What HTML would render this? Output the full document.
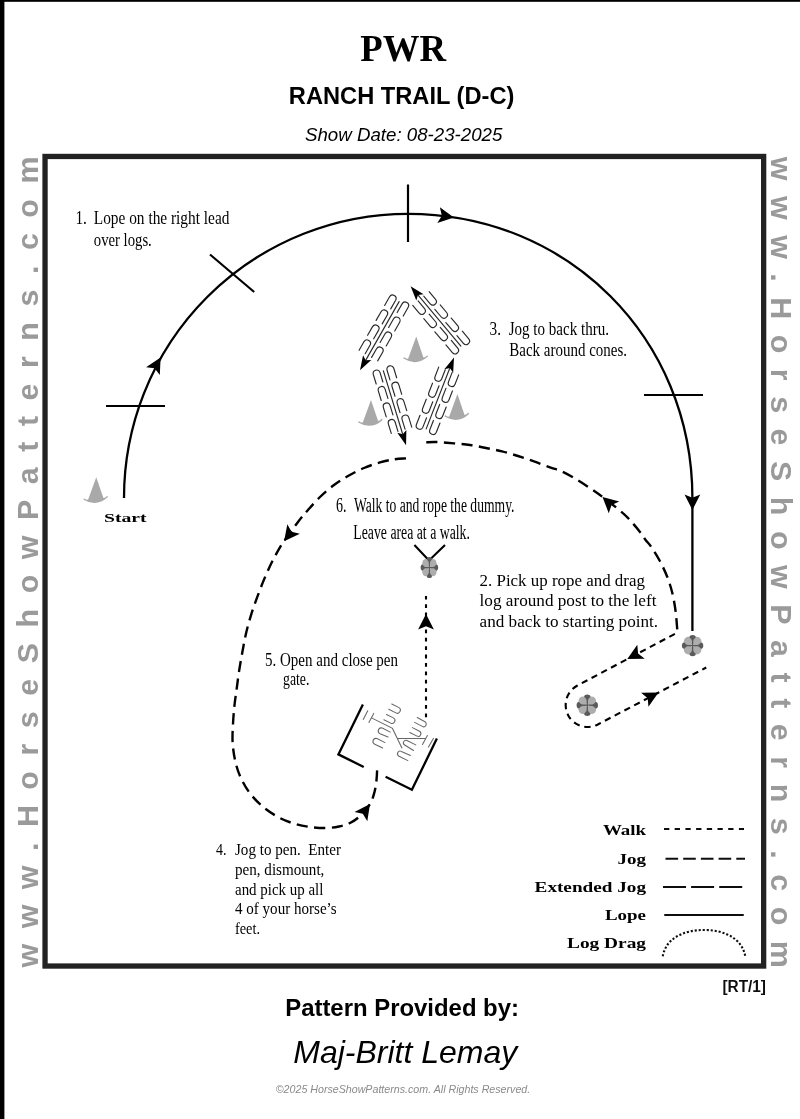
<!DOCTYPE html>
<html lang="en">
<head>
<meta charset="utf-8">
<title>PWR Ranch Trail (D-C) Pattern</title>
<style>
html,body{margin:0;padding:0;background:#fff;}
body{width:800px;height:1119px;overflow:hidden;}
svg{display:block;}
text{white-space:pre;}
</style>
</head>
<body>
<svg width="800" height="1119" viewBox="0 0 800 1119">
<rect width="800" height="1119" fill="#fff"/>
<rect x="0" y="0" width="4.4" height="1119" fill="#000"/>
<rect x="0" y="0" width="800" height="1.8" fill="#000"/>
<defs><filter id="soft" x="0" y="0" width="800" height="1119" filterUnits="userSpaceOnUse"><feGaussianBlur stdDeviation="0.45"/></filter></defs>
<g filter="url(#soft)">
<rect x="45.05" y="156.45" width="718.6" height="809.6" fill="none" stroke="#222" stroke-width="5.3"/>
<text x="403.2" y="60.9" font-family="'Liberation Serif', serif" font-size="38.3" font-weight="bold" text-anchor="middle" textLength="85.8" lengthAdjust="spacingAndGlyphs" fill="#000">PWR</text>
<text x="401.6" y="103.8" font-family="'Liberation Sans', sans-serif" font-size="24" font-weight="bold" text-anchor="middle" textLength="225.6" lengthAdjust="spacingAndGlyphs" fill="#000">RANCH TRAIL (D-C)</text>
<text x="403.7" y="140.9" font-family="'Liberation Sans', sans-serif" font-size="19" font-style="italic" text-anchor="middle" textLength="197.4" lengthAdjust="spacingAndGlyphs" fill="#000">Show Date: 08-23-2025</text>
<text transform="translate(38,967.5) rotate(-90)" font-family="'Liberation Sans', sans-serif" font-weight="bold" font-size="30.4" fill="#9a9a9a" textLength="811" lengthAdjust="spacing">www.HorseShowPatterns.com</text>
<text transform="translate(771,156.8) rotate(90)" font-family="'Liberation Sans', sans-serif" font-weight="bold" font-size="30.4" fill="#9a9a9a" textLength="811" lengthAdjust="spacing">www.HorseShowPatterns.com</text>
<text x="766" y="992.1" font-family="'Liberation Sans', sans-serif" font-size="16" font-weight="bold" text-anchor="end" textLength="43.6" lengthAdjust="spacingAndGlyphs" fill="#111">[RT/1]</text>
<text x="402.1" y="1015.8" font-family="'Liberation Sans', sans-serif" font-size="24" font-weight="bold" text-anchor="middle" textLength="233.8" lengthAdjust="spacingAndGlyphs" fill="#000">Pattern Provided by:</text>
<text x="405.3" y="1062.7" font-family="'Liberation Sans', sans-serif" font-size="32" font-style="italic" text-anchor="middle" textLength="224" lengthAdjust="spacingAndGlyphs" fill="#000">Maj-Britt Lemay</text>
<text x="403" y="1093.4" font-family="'Liberation Sans', sans-serif" font-size="11" font-style="italic" text-anchor="middle" textLength="254.5" lengthAdjust="spacingAndGlyphs" fill="#8a8a8a">©2025 HorseShowPatterns.com. All Rights Reserved.</text>
<path d="M124,498 A284.2,284.2 0 0 1 408.2,213.8 C567.92,213.8 692.4,338.28 692.4,498 L692.4,631" fill="none" stroke="#000" stroke-width="2.3"/>
<path d="M106,406 L165,406 M210,254.5 L254.2,292 M408,184.4 L408,242 M644,395 L703,395" fill="none" stroke="#000" stroke-width="2.2"/>
<polygon points="160.6,357.6 159.83,374.98 154.58,368.21 146.08,367.19" fill="#000"/>
<polygon points="453.9,217.6 437.33,222.9 441.86,215.64 439.87,207.31" fill="#000"/>
<polygon points="692.4,510 684.5,494.5 692.4,497.8 700.3,494.5" fill="#000"/>
<path d="M96.25,477.2 L103.41,498.1 Q105.32,498.1 107.18,495.69 L107.93,497.12 Q96.65,507.45 83.47,499.69 L83.91,498.13 Q86.22,500.1 88.09,499.7 Z" fill="#a9a9a9"/>
<text x="104" y="522.2" font-family="'Liberation Serif', serif" font-size="12.6" font-weight="bold" textLength="42.6" lengthAdjust="spacingAndGlyphs" fill="#000">Start</text>
<path d="M416.25,336.4 L423.42,357.47 Q425.33,357.51 427.25,355.15 L427.97,356.59 Q416.45,366.67 403.45,358.61 L403.93,357.07 Q406.2,359.09 408.08,358.73 Z" fill="#a9a9a9"/>
<path d="M370.95,400 L378.11,420.9 Q380.02,420.9 381.88,418.49 L382.63,419.92 Q371.35,430.25 358.17,422.49 L358.61,420.93 Q360.92,422.9 362.79,422.5 Z" fill="#a9a9a9"/>
<path d="M457.4,394.1 L464.56,415 Q466.47,415 468.33,412.59 L469.08,414.02 Q457.8,424.35 444.62,416.59 L445.06,415.03 Q447.37,417 449.24,416.6 Z" fill="#a9a9a9"/>
<path d="M403.22,316.03 L408.17,307.34 A3.5,3.5 0 0 0 402.08,303.87 L397.14,312.56 M394.71,330.97 L399.66,322.28 A3.5,3.5 0 0 0 393.57,318.82 L388.62,327.51 M386.2,345.92 L391.14,337.23 A3.5,3.5 0 0 0 385.06,333.77 L380.11,342.46 M377.69,360.87 L382.63,352.18 A3.5,3.5 0 0 0 376.55,348.71 L371.6,357.4 M390.7,308.9 L395.65,300.21 A3.5,3.5 0 0 0 389.57,296.75 L384.62,305.44 M382.19,323.85 L387.14,315.16 A3.5,3.5 0 0 0 381.06,311.69 L376.11,320.38 M373.68,338.79 L378.63,330.1 A3.5,3.5 0 0 0 372.55,326.64 L367.6,335.33 M365.17,353.74 L370.12,345.05 A3.5,3.5 0 0 0 364.04,341.59 L359.09,350.28 M399.12,301.61 L365.94,359.87" fill="none" stroke="#2a2a2a" stroke-width="1.15" stroke-linecap="round"/>
<polygon points="360,370.3 363.05,355.35 365.69,360.31 371.3,360.05" fill="#000"/>
<path d="M396.67,377.79 L393.76,368.22 A3.5,3.5 0 0 0 387.06,370.27 L389.98,379.83 M401.7,394.24 L398.78,384.68 A3.5,3.5 0 0 0 392.08,386.72 L395,396.28 M406.72,410.69 L403.8,401.13 A3.5,3.5 0 0 0 397.1,403.17 L400.02,412.73 M411.74,427.14 L408.82,417.58 A3.5,3.5 0 0 0 402.12,419.62 L405.04,429.18 M382.9,381.99 L379.98,372.43 A3.5,3.5 0 0 0 373.29,374.47 L376.21,384.04 M387.92,398.44 L385,388.88 A3.5,3.5 0 0 0 378.31,390.92 L381.23,400.49 M392.94,414.89 L390.02,405.33 A3.5,3.5 0 0 0 383.33,407.37 L386.25,416.94 M397.96,431.34 L395.04,421.78 A3.5,3.5 0 0 0 388.35,423.82 L391.27,433.39 M383.38,370.87 L402.56,433.72" fill="none" stroke="#2a2a2a" stroke-width="1.15" stroke-linecap="round"/>
<polygon points="406.06,445.2 397.28,432.72 402.7,434.2 406.37,429.94" fill="#000"/>
<path d="M420.02,415.24 L416.4,424.56 A3.5,3.5 0 0 0 422.92,427.1 L426.55,417.78 M426.26,399.21 L422.63,408.53 A3.5,3.5 0 0 0 429.16,411.07 L432.78,401.75 M432.49,383.18 L428.87,392.5 A3.5,3.5 0 0 0 435.39,395.04 L439.02,385.72 M438.73,367.15 L435.1,376.47 A3.5,3.5 0 0 0 441.63,379.01 L445.25,369.69 M433.44,420.46 L429.82,429.78 A3.5,3.5 0 0 0 436.34,432.32 L439.97,423 M439.68,404.43 L436.05,413.75 A3.5,3.5 0 0 0 442.58,416.29 L446.2,406.97 M445.91,388.4 L442.29,397.72 A3.5,3.5 0 0 0 448.81,400.26 L452.44,390.94 M452.15,372.37 L448.52,381.69 A3.5,3.5 0 0 0 455.05,384.23 L458.67,374.91 M426.19,428.9 L449.65,368.58" fill="none" stroke="#2a2a2a" stroke-width="1.15" stroke-linecap="round"/>
<polygon points="454,357.4 453.17,372.64 449.83,368.12 444.32,369.19" fill="#000"/>
<path d="M445.92,344.94 L452.36,352.6 A3.5,3.5 0 0 0 457.72,348.1 L451.28,340.44 M434.86,331.77 L441.29,339.43 A3.5,3.5 0 0 0 446.65,334.93 L440.22,327.27 M423.8,318.6 L430.23,326.26 A3.5,3.5 0 0 0 435.59,321.76 L429.16,314.1 M412.74,305.43 L419.17,313.09 A3.5,3.5 0 0 0 424.53,308.59 L418.1,300.93 M456.95,335.68 L463.38,343.34 A3.5,3.5 0 0 0 468.74,338.84 L462.31,331.18 M445.89,322.51 L452.32,330.17 A3.5,3.5 0 0 0 457.68,325.67 L451.25,318.01 M434.83,309.34 L441.26,317 A3.5,3.5 0 0 0 446.62,312.5 L440.19,304.84 M423.76,296.17 L430.2,303.83 A3.5,3.5 0 0 0 435.56,299.33 L429.12,291.67 M460.87,346.1 L418.32,295.44" fill="none" stroke="#2a2a2a" stroke-width="1.15" stroke-linecap="round"/>
<polygon points="410.6,286.25 423.56,294.3 418,295.06 416.29,300.41" fill="#000"/>
<path d="M677.25,629.4 C676.98,626.38 676.39,617.19 675.6,611.25 C674.81,605.31 673.85,599.38 672.5,593.75 C671.15,588.12 669.58,582.92 667.5,577.5 C665.42,572.08 662.71,566.35 660,561.25 C657.29,556.15 653.65,550.44 651.25,546.9 C648.85,543.36 647.48,542.5 645.6,540 C643.73,537.5 642.81,535.44 640,531.9 C637.19,528.36 632.08,522.3 628.75,518.75 C625.42,515.2 624.38,514.24 620,510.6 C615.62,506.96 607.18,500.43 602.5,496.9 C597.82,493.37 596.07,492.22 591.9,489.4 C587.73,486.58 582.5,482.98 577.5,480 C572.5,477.02 566.48,473.6 561.9,471.5 C557.32,469.4 554.65,469.08 550,467.4 C545.35,465.72 539.33,463.3 534,461.4 C528.67,459.5 523.33,457.67 518,456 C512.67,454.33 507.33,452.73 502,451.4 C496.67,450.07 491.33,449.07 486,448 C480.67,446.93 475.33,445.77 470,445 C464.67,444.23 459.67,443.9 454,443.4 C448.33,442.9 440.67,442.17 436,442 C431.33,441.83 427.67,442.33 426,442.4" fill="none" stroke="#000" stroke-width="2.4" stroke-dasharray="11.2 6.4"/>
<polygon points="602.5,496.9 619.3,501.4 611.57,505.06 608.73,513.14" fill="#000"/>
<path d="M406,458.4 C404,458.57 398.33,458.73 394,459.4 C389.67,460.07 385,460.97 380,462.4 C375,463.83 369.33,465.73 364,468 C358.67,470.27 353,473.17 348,476 C343,478.83 338.67,481.5 334,485 C329.33,488.5 324.33,492.83 320,497 C315.67,501.17 311.67,505.83 308,510 C304.33,514.17 301.93,516.9 298,522 C294.07,527.1 287.38,536.4 284.4,540.6 C281.42,544.8 282.13,543.72 280.1,547.2 C278.07,550.68 274.82,556.27 272.2,561.5 C269.58,566.73 266.9,572.65 264.4,578.6 C261.9,584.55 259.47,591 257.2,597.2 C254.93,603.4 252.7,609.6 250.8,615.8 C248.9,622 247.23,628.2 245.8,634.4 C244.37,640.6 243.33,646.8 242.2,653 C241.07,659.2 239.95,665.4 239,671.6 C238.05,677.8 237.27,684.47 236.5,690.2 C235.73,695.93 234.98,700.37 234.4,706 C233.82,711.63 233.3,718 233,724 C232.7,730 232.27,736 232.6,742 C232.93,748 233.77,754.33 235,760 C236.23,765.67 237.67,770.67 240,776 C242.33,781.33 245.33,787 249,792 C252.67,797 257.17,801.83 262,806 C266.83,810.17 272.67,814.07 278,817 C283.33,819.93 288.67,821.93 294,823.6 C299.33,825.27 304.67,826.27 310,827 C315.33,827.73 321.17,828.08 326,828 C330.83,827.92 335,827.33 339,826.5 C343,825.67 346.5,824.75 350,823 C353.5,821.25 356.67,819.17 360,816 C363.33,812.83 367.58,808 370,804 C372.42,800 373.42,796 374.5,792 C375.58,788 376.05,783.95 376.5,780 C376.95,776.05 377.08,770.25 377.2,768.3" fill="none" stroke="#000" stroke-width="2.4" stroke-dasharray="11.2 6.4"/>
<polygon points="284.1,541.3 287.32,524.2 291.56,531.64 299.83,533.86" fill="#000"/>
<polygon points="370,804 367.29,821.18 362.83,813.87 354.5,811.9" fill="#000"/>
<path d="M426,717.2 L426,596" fill="none" stroke="#000" stroke-width="2.1" stroke-dasharray="3.8 4.6"/>
<polygon points="426,614 433.9,629.5 426,626.2 418.1,629.5" fill="#000"/>
<path d="M414.4,545 L429,560.5 L445,545" fill="none" stroke="#000" stroke-width="2.1"/>
<g transform="translate(429.4,567.6) scale(0.82,0.98)"><circle cx="-4.2" cy="-4.2" r="4.6" fill="#adadad"/><circle cx="-4.2" cy="4.2" r="4.6" fill="#adadad"/><circle cx="4.2" cy="-4.2" r="4.6" fill="#adadad"/><circle cx="4.2" cy="4.2" r="4.6" fill="#adadad"/><path d="M-0.6,0.6 L-0.7,-5 C-0.9,-7 -3.2,-7.6 -3.2,-8.7 C-3.2,-10 -1.5,-10.7 0,-10.7 C1.5,-10.7 3.2,-10 3.2,-8.7 C3.2,-7.6 0.9,-7 0.7,-5 L0.6,0.6 Z" fill="#5a5a5a" transform="rotate(0)"/><path d="M-0.6,0.6 L-0.7,-5 C-0.9,-7 -3.2,-7.6 -3.2,-8.7 C-3.2,-10 -1.5,-10.7 0,-10.7 C1.5,-10.7 3.2,-10 3.2,-8.7 C3.2,-7.6 0.9,-7 0.7,-5 L0.6,0.6 Z" fill="#5a5a5a" transform="rotate(90)"/><path d="M-0.6,0.6 L-0.7,-5 C-0.9,-7 -3.2,-7.6 -3.2,-8.7 C-3.2,-10 -1.5,-10.7 0,-10.7 C1.5,-10.7 3.2,-10 3.2,-8.7 C3.2,-7.6 0.9,-7 0.7,-5 L0.6,0.6 Z" fill="#5a5a5a" transform="rotate(180)"/><path d="M-0.6,0.6 L-0.7,-5 C-0.9,-7 -3.2,-7.6 -3.2,-8.7 C-3.2,-10 -1.5,-10.7 0,-10.7 C1.5,-10.7 3.2,-10 3.2,-8.7 C3.2,-7.6 0.9,-7 0.7,-5 L0.6,0.6 Z" fill="#5a5a5a" transform="rotate(270)"/></g>
<path d="M674.9,633.9 L577.05,685.7 A22,22 0 0 0 597.4,724.7 L706.25,667.5" fill="none" stroke="#000" stroke-width="2.1" stroke-dasharray="6.3 4.7"/>
<polygon points="627.3,659.1 637.3,644.87 638.08,653.39 644.7,658.83" fill="#000"/>
<polygon points="658.5,692.6 648.45,706.8 647.7,698.27 641.1,692.82" fill="#000"/>
<g transform="translate(692.6,645.6) scale(1,1)"><circle cx="-4.2" cy="-4.2" r="4.6" fill="#adadad"/><circle cx="-4.2" cy="4.2" r="4.6" fill="#adadad"/><circle cx="4.2" cy="-4.2" r="4.6" fill="#adadad"/><circle cx="4.2" cy="4.2" r="4.6" fill="#adadad"/><path d="M-0.6,0.6 L-0.7,-5 C-0.9,-7 -3.2,-7.6 -3.2,-8.7 C-3.2,-10 -1.5,-10.7 0,-10.7 C1.5,-10.7 3.2,-10 3.2,-8.7 C3.2,-7.6 0.9,-7 0.7,-5 L0.6,0.6 Z" fill="#5a5a5a" transform="rotate(0)"/><path d="M-0.6,0.6 L-0.7,-5 C-0.9,-7 -3.2,-7.6 -3.2,-8.7 C-3.2,-10 -1.5,-10.7 0,-10.7 C1.5,-10.7 3.2,-10 3.2,-8.7 C3.2,-7.6 0.9,-7 0.7,-5 L0.6,0.6 Z" fill="#5a5a5a" transform="rotate(90)"/><path d="M-0.6,0.6 L-0.7,-5 C-0.9,-7 -3.2,-7.6 -3.2,-8.7 C-3.2,-10 -1.5,-10.7 0,-10.7 C1.5,-10.7 3.2,-10 3.2,-8.7 C3.2,-7.6 0.9,-7 0.7,-5 L0.6,0.6 Z" fill="#5a5a5a" transform="rotate(180)"/><path d="M-0.6,0.6 L-0.7,-5 C-0.9,-7 -3.2,-7.6 -3.2,-8.7 C-3.2,-10 -1.5,-10.7 0,-10.7 C1.5,-10.7 3.2,-10 3.2,-8.7 C3.2,-7.6 0.9,-7 0.7,-5 L0.6,0.6 Z" fill="#5a5a5a" transform="rotate(270)"/></g>
<g transform="translate(587.3,705.2) scale(1,1)"><circle cx="-4.2" cy="-4.2" r="4.6" fill="#adadad"/><circle cx="-4.2" cy="4.2" r="4.6" fill="#adadad"/><circle cx="4.2" cy="-4.2" r="4.6" fill="#adadad"/><circle cx="4.2" cy="4.2" r="4.6" fill="#adadad"/><path d="M-0.6,0.6 L-0.7,-5 C-0.9,-7 -3.2,-7.6 -3.2,-8.7 C-3.2,-10 -1.5,-10.7 0,-10.7 C1.5,-10.7 3.2,-10 3.2,-8.7 C3.2,-7.6 0.9,-7 0.7,-5 L0.6,0.6 Z" fill="#5a5a5a" transform="rotate(0)"/><path d="M-0.6,0.6 L-0.7,-5 C-0.9,-7 -3.2,-7.6 -3.2,-8.7 C-3.2,-10 -1.5,-10.7 0,-10.7 C1.5,-10.7 3.2,-10 3.2,-8.7 C3.2,-7.6 0.9,-7 0.7,-5 L0.6,0.6 Z" fill="#5a5a5a" transform="rotate(90)"/><path d="M-0.6,0.6 L-0.7,-5 C-0.9,-7 -3.2,-7.6 -3.2,-8.7 C-3.2,-10 -1.5,-10.7 0,-10.7 C1.5,-10.7 3.2,-10 3.2,-8.7 C3.2,-7.6 0.9,-7 0.7,-5 L0.6,0.6 Z" fill="#5a5a5a" transform="rotate(180)"/><path d="M-0.6,0.6 L-0.7,-5 C-0.9,-7 -3.2,-7.6 -3.2,-8.7 C-3.2,-10 -1.5,-10.7 0,-10.7 C1.5,-10.7 3.2,-10 3.2,-8.7 C3.2,-7.6 0.9,-7 0.7,-5 L0.6,0.6 Z" fill="#5a5a5a" transform="rotate(270)"/></g>
<path d="M362.9,704.5 L338.4,754.4 L363.75,767 M385.6,776.8 L411.9,789.7 L436.9,738.6" fill="none" stroke="#000" stroke-width="2.3" stroke-linejoin="miter"/>
<path d="M363.25,719.4 L367.75,710.75 M368.9,722.4 L373.75,713.4 M371.5,717.9 L392.5,728.4 L401.9,747.9 M391.75,704 L398.6,707.4 A3.06,3.06 0 0 1 395.9,712.9 L388.75,709.25 M386.5,714.5 L393.4,717.9 A2.93,2.93 0 0 1 390.7,723.1 L383.9,719.75 M390.25,732.1 L382.3,728.1 A3.03,3.03 0 0 0 380,733.7 L388,737 M385,742.6 L377,738.6 A3.03,3.03 0 0 0 374.7,744.2 L382.75,747.9 M433.4,738.5 L428.5,747.1 M427.4,735.5 L422.5,744.5 M424.75,738.5 L398.1,738.5 M417.25,717.5 L424.9,721.8 A2.64,2.64 0 0 1 422.3,726.4 L414.6,722.4 M412.4,727.6 L419.5,731.3 A2.71,2.71 0 0 1 417,736.1 L409.75,732.5 M415.75,744.9 L407,740.5 A2.53,2.53 0 0 0 404.7,745 L413.5,750.5 M410.5,755.4 L401.4,751.4 A2.68,2.68 0 0 0 399,756.2 L407.9,760.6 " fill="none" stroke="#666" stroke-width="1.05" stroke-linecap="round"/>
<text x="75.4" y="224.3" font-family="'Liberation Serif', serif" font-size="18.8" textLength="11.5" lengthAdjust="spacingAndGlyphs" fill="#000">1.</text>
<text x="93.8" y="224.3" font-family="'Liberation Serif', serif" font-size="18.8" textLength="135.6" lengthAdjust="spacingAndGlyphs" fill="#000">Lope on the right lead</text>
<text x="93.8" y="246.1" font-family="'Liberation Serif', serif" font-size="18.8" textLength="58" lengthAdjust="spacingAndGlyphs" fill="#000">over logs.</text>
<text x="489.6" y="335.4" font-family="'Liberation Serif', serif" font-size="18" textLength="11.5" lengthAdjust="spacingAndGlyphs" fill="#000">3.</text>
<text x="508.7" y="335.4" font-family="'Liberation Serif', serif" font-size="18" textLength="100.3" lengthAdjust="spacingAndGlyphs" fill="#000">Jog to back thru.</text>
<text x="509.3" y="355.9" font-family="'Liberation Serif', serif" font-size="18" textLength="117.7" lengthAdjust="spacingAndGlyphs" fill="#000">Back around cones.</text>
<text x="336" y="512" font-family="'Liberation Serif', serif" font-size="20" textLength="10.5" lengthAdjust="spacingAndGlyphs" fill="#000">6.</text>
<text x="353.9" y="512" font-family="'Liberation Serif', serif" font-size="20" textLength="160.6" lengthAdjust="spacingAndGlyphs" fill="#000">Walk to and rope the dummy.</text>
<text x="353.3" y="538.5" font-family="'Liberation Serif', serif" font-size="20" textLength="116.6" lengthAdjust="spacingAndGlyphs" fill="#000">Leave area at a walk.</text>
<text x="479.6" y="585.8" font-family="'Liberation Serif', serif" font-size="17.2" textLength="165.3" lengthAdjust="spacingAndGlyphs" fill="#000">2. Pick up rope and drag</text>
<text x="479.6" y="606.4" font-family="'Liberation Serif', serif" font-size="17.2" textLength="176.9" lengthAdjust="spacingAndGlyphs" fill="#000">log around post to the left</text>
<text x="479.6" y="627.4" font-family="'Liberation Serif', serif" font-size="17.2" textLength="178.5" lengthAdjust="spacingAndGlyphs" fill="#000">and back to starting point.</text>
<text x="265" y="666" font-family="'Liberation Serif', serif" font-size="18" textLength="133" lengthAdjust="spacingAndGlyphs" fill="#000">5. Open and close pen</text>
<text x="283" y="684.8" font-family="'Liberation Serif', serif" font-size="18" textLength="26.4" lengthAdjust="spacingAndGlyphs" fill="#000">gate.</text>
<text x="216" y="855" font-family="'Liberation Serif', serif" font-size="17.5" textLength="10.5" lengthAdjust="spacingAndGlyphs" fill="#000">4.</text>
<text x="235" y="855" font-family="'Liberation Serif', serif" font-size="17.5" textLength="106" lengthAdjust="spacingAndGlyphs" fill="#000">Jog to pen.  Enter</text>
<text x="235" y="874.6" font-family="'Liberation Serif', serif" font-size="17.5" textLength="89.4" lengthAdjust="spacingAndGlyphs" fill="#000">pen, dismount,</text>
<text x="235" y="894.6" font-family="'Liberation Serif', serif" font-size="17.5" textLength="88.4" lengthAdjust="spacingAndGlyphs" fill="#000">and pick up all</text>
<text x="235" y="914.4" font-family="'Liberation Serif', serif" font-size="17.5" textLength="101.6" lengthAdjust="spacingAndGlyphs" fill="#000">4 of your horse’s</text>
<text x="235" y="934.4" font-family="'Liberation Serif', serif" font-size="17.5" textLength="25" lengthAdjust="spacingAndGlyphs" fill="#000">feet.</text>
<text x="602.9" y="835.3" font-family="'Liberation Serif', serif" font-size="15.6" font-weight="bold" textLength="43.1" lengthAdjust="spacingAndGlyphs" fill="#000">Walk</text>
<text x="617.5" y="863.7" font-family="'Liberation Serif', serif" font-size="15.6" font-weight="bold" textLength="28.5" lengthAdjust="spacingAndGlyphs" fill="#000">Jog</text>
<text x="534.6" y="892.3" font-family="'Liberation Serif', serif" font-size="15.6" font-weight="bold" textLength="111.4" lengthAdjust="spacingAndGlyphs" fill="#000">Extended Jog</text>
<text x="605" y="919.6" font-family="'Liberation Serif', serif" font-size="15.6" font-weight="bold" textLength="41" lengthAdjust="spacingAndGlyphs" fill="#000">Lope</text>
<text x="567" y="947.5" font-family="'Liberation Serif', serif" font-size="15.6" font-weight="bold" textLength="79" lengthAdjust="spacingAndGlyphs" fill="#000">Log Drag</text>
<path d="M664,829 L744,829" fill="none" stroke="#111" stroke-width="2.1" stroke-dasharray="5.3 5.4"/>
<path d="M665.5,858.75 L745,858.75" fill="none" stroke="#111" stroke-width="2.1" stroke-dasharray="12.6 5.1"/>
<path d="M663,887 L742.25,887" fill="none" stroke="#111" stroke-width="2.1" stroke-dasharray="23 5.1"/>
<path d="M664.25,915 L743.75,915" fill="none" stroke="#111" stroke-width="2.1"/>
<path d="M662.75,956.25 C666,938 684,930 704,930 C724,930 742,938 745.25,956.25" fill="none" stroke="#111" stroke-width="2.1" stroke-dasharray="2.1 1.9"/>
</g>
</svg>
</body>
</html>
